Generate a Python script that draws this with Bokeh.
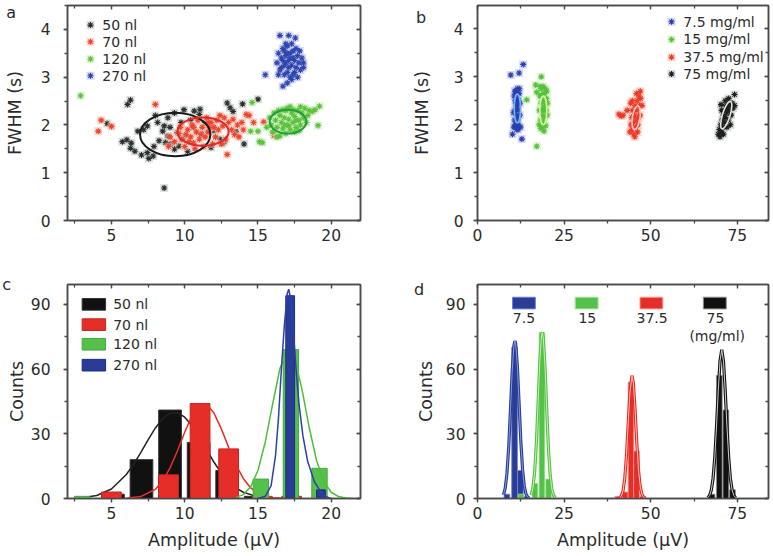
from bokeh.plotting import figure
from bokeh.layouts import column, row
from bokeh.models import LinearAxis, SingleIntervalTicker, Range1d, Label
from bokeh.embed import file_html
from bokeh.resources import INLINE
from bokeh.core.properties import value

FONT = "DejaVu Sans"
TXT = "#2b2b2b"
AXC = "#4a4a4a"

# ---------------- data ----------------
# panel a : FWHM vs amplitude, by volume
a_50nl = [(6.1,2.43),(6.3,2.52),(4.7,2.03),(5.75,1.65),(6.05,1.69),(6.35,1.62),(6.3,1.51),(7.05,1.37),
          (7.45,1.42),(7.55,1.30),(7.85,1.35),(6.8,1.87),(8.6,0.68),(7.45,1.98),(8.15,2.05),(8.5,1.87),
          (8.85,1.77),(8.25,1.67),(8.7,1.63),(9.05,1.60),(9.3,1.49),(9.6,1.56),(8.85,2.15),(9.3,2.25),
          (9.95,2.32),(10.65,2.29),(11.0,2.22),(9.75,2.05),(9.5,1.84),(8.6,1.98),(12.9,2.46),(13.1,2.36),
          (13.95,2.44),(15.0,2.54),(14.05,1.60),(13.5,1.86),(11.8,1.53),(12.7,1.66),(11.05,2.33),(10.6,1.95),
          (12.0,1.88),(10.2,1.45),(9.9,1.70),(10.4,2.10),(11.4,2.05),(12.4,1.70),(7.9,1.55),(8.0,2.20),
          (9.0,1.95),(10.0,1.78),(11.2,1.82),(12.6,1.62),(13.3,2.28),(7.2,1.90),(6.6,1.45)]
a_70nl = [(4.3,2.10),(5.0,1.97),(4.1,1.87),(8.0,2.43),(12.9,1.38),(16.1,1.78),(16.15,1.81),(15.4,2.06),
          (14.2,2.22),(14.4,2.2),(14.7,2.05),(13.9,2.05),(13.6,2.0),(13.3,2.12),(13.0,2.05),(12.7,2.15),
          (12.4,2.2),(12.2,2.1),(12.0,1.95),(11.8,2.05),(11.6,1.85),(11.4,1.75),(11.2,1.95),(11.0,1.7),
          (10.8,1.85),(10.6,1.62),(10.4,1.75),(10.2,1.9),(10.0,1.55),(9.8,1.7),(9.6,1.82),(9.3,1.65),
          (9.0,1.75),(8.9,1.55),(10.5,2.0),(10.9,2.1),(11.5,2.15),(12.1,1.75),(12.5,1.6),(12.8,1.7),
          (11.9,1.6),(11.3,1.55),(10.7,1.5),(10.1,1.8),(9.7,1.95),(13.4,1.8),(13.7,1.75),(14.0,1.9),
          (12.3,1.9),(11.7,1.95),(11.1,1.8),(10.3,1.65),(12.6,1.98),(13.2,1.9),(11.6,2.05),(10.6,1.95)]
a_120nl = [(2.9,2.61),(14.5,1.87),(15.1,1.65),(15.3,1.63),(16.5,1.77),(19.2,2.39),(19.1,1.99),(18.9,2.32),
           (17.9,2.38),(14.6,2.47),(15.0,1.87),(15.6,1.95),(15.9,2.0),(16.0,1.85),(16.2,2.1),(16.3,1.95),
           (16.5,2.2),(16.6,2.05),(16.7,1.92),(16.8,2.15),(16.9,2.3),(17.0,2.0),(17.1,2.12),(17.2,1.9),
           (17.3,2.25),(17.4,2.05),(17.5,2.18),(17.6,1.95),(17.7,2.3),(17.8,2.1),(17.9,2.0),(18.0,2.25),
           (18.1,2.15),(18.2,2.35),(18.4,2.2),(18.5,2.3),(18.7,2.28),(16.4,2.3),(16.7,2.32),(17.0,2.35),
           (17.2,2.38),(17.5,1.85),(16.9,1.82),(16.3,1.75),(17.8,1.88),(18.3,2.05),(16.1,2.25),(15.8,2.15),
           (17.4,2.32),(16.8,2.0),(17.6,2.1),(17.1,1.98)]
a_270nl = [(15.5,3.05),(16.5,3.87),(17.1,3.87),(17.55,3.82),(16.7,2.81),(17.0,2.88),(18.1,3.2),(17.85,3.55),
           (16.4,3.5),(16.3,3.3),(16.5,3.15),(16.6,3.4),(16.7,3.6),(16.8,3.25),(16.9,3.45),(17.0,3.1),
           (17.0,3.65),(17.1,3.35),(17.2,3.5),(17.2,3.0),(17.3,3.25),(17.4,3.55),(17.4,3.05),(17.5,3.35),
           (17.6,3.2),(17.7,3.45),(17.8,3.3),(17.9,3.15),(18.0,3.4),(16.9,3.7),(17.3,3.7),(16.6,3.2),
           (16.8,3.05),(17.1,3.2),(17.2,3.4),(16.9,3.3),(17.5,3.1),(17.6,3.6),(16.7,3.35),(17.3,2.95),
           (18.1,3.3),(16.4,3.05),(17.0,3.5),(17.4,3.4),(16.8,3.55),(17.7,3.0)]
a_labels = ["50 nl", "70 nl", "120 nl", "270 nl"]
# fitted ellipses (center x, center y, width, height)
a_ell_x = [9.35, 11.25, 17.05]
a_ell_y = [1.80, 1.86, 2.07]
a_ell_w = [4.8, 3.5, 2.5]
a_ell_h = [0.91, 0.59, 0.50]

# panel b : FWHM vs amplitude, by concentration
b_7_5 = [(9.6,3.04),(12.0,3.08),(13.2,3.26),(10.1,1.80),(12.8,1.70),(10.5,1.95),(10.7,2.1),(10.8,2.3),
         (10.9,2.5),(11.0,2.7),(11.1,2.0),(11.2,2.2),(11.3,2.4),(11.4,2.6),(11.5,2.75),(11.6,2.1),
         (11.7,2.3),(11.8,2.5),(11.9,1.95),(12.0,2.65),(12.2,2.2),(12.3,2.45),(10.6,2.6),(10.9,2.0),
         (11.3,1.9),(11.6,2.55),(11.1,2.45),(11.4,2.15),(11.8,2.0),(12.1,2.75),(10.4,2.25),(11.5,2.35),
         (11.2,2.65),(11.7,1.9),(10.8,2.7),(12.4,1.95)]
b_15 = [(14.2,2.52),(16.8,2.83),(17.1,2.68),(18.4,3.0),(17.1,1.55),(19.2,1.87),(17.8,2.0),(17.9,2.3),
        (18.0,2.6),(18.2,2.1),(18.3,2.45),(18.4,2.75),(18.6,1.95),(18.7,2.2),(18.8,2.5),(18.9,2.8),
        (19.0,2.05),(19.1,2.35),(19.2,2.65),(19.4,2.15),(19.5,2.4),(19.6,2.75),(19.8,2.3),(19.9,2.55),
        (20.1,2.2),(20.2,2.45),(18.5,2.3),(19.3,2.5),(18.1,2.8),(19.7,1.98),(20.0,2.7),(18.6,2.62),
        (19.0,2.3),(18.3,1.92)]
b_37_5 = [(40.8,2.22),(41.5,2.18),(42.0,2.2),(43.2,2.3),(44.0,1.85),(44.3,2.0),(44.5,2.15),(44.6,1.9),
          (44.8,2.3),(45.0,2.05),(45.1,1.8),(45.3,2.2),(45.5,2.4),(45.6,1.95),(45.8,2.1),(46.0,2.3),
          (46.1,2.5),(46.2,1.85),(46.4,2.15),(46.6,2.6),(46.8,2.4),(47.0,2.7),(47.1,2.55),(46.9,2.2),
          (45.4,1.75),(44.2,2.45),(47.5,2.4),(45.9,2.65),(44.7,2.5),(46.3,2.0)]
b_75 = [(74.2,2.63),(69.5,1.8),(69.8,1.9),(70.0,1.75),(70.2,2.0),(70.4,1.85),(70.6,2.1),(70.8,1.95),
        (71.0,2.2),(71.2,2.05),(71.4,2.3),(71.6,2.15),(71.8,2.4),(72.0,2.25),(72.2,2.35),(72.4,2.1),
        (72.6,2.45),(72.8,2.3),(73.0,2.4),(73.2,2.2),(73.5,2.45),(73.8,2.35),(74.2,2.4),(71.0,1.8),
        (70.5,2.3),(72.0,1.95),(73.0,2.0),(71.5,2.5),(70.3,2.42),(72.5,2.55)]
b_labels = ["7.5 mg/ml", "15 mg/ml", "37.5 mg/ml", "75 mg/ml"]
b_ell_x = [11.5, 19.0, 45.8, 71.8]
b_ell_y = [2.34, 2.30, 2.15, 2.20]
b_ell_w = [1.8, 2.0, 2.2, 2.2]
b_ell_h = [0.60, 0.60, 0.50, 0.60]
b_ell_a = [0.0, 0.0, -0.15, -0.3]

# panel c : amplitude histograms by volume
c_x50 = [5.1, 7.05, 9.0, 10.95, 12.9, 14.85]
c_n50 = [2, 18, 41, 26, 13, 1]
c_x70 = [5.0, 8.9, 11.05, 13.0, 15.3, 17.3]
c_n70 = [3, 11, 44, 23, 1, 1]
c_x120 = [3.0, 15.2, 17.25, 19.2]
c_n120 = [1, 9, 69, 14]
c_x270 = [17.2, 19.3]
c_n270 = [94, 4]
c_fit50 = [(3,0.4),(4,1.4),(5,4.4),(6,11),(6.5,15.7),(7,21.3),(7.5,27.2),(8,32.7),(8.5,37.1),(9,39.6),
           (9.5,39.8),(10,37.7),(10.5,33.7),(11,28.4),(11.5,22.5),(12,16.8),(12.5,11.8),(13,7.8),
           (13.5,4.9),(14,2.9),(15,0.8),(16,0.2)]
c_fit70 = [(6,0.1),(7,0.9),(8,4.3),(8.5,8.2),(9,14.2),(9.5,22),(10,30.7),(10.5,38.4),(11,43.2),(11.5,43.6),
           (12,39.6),(12.5,32.3),(13,23.7),(13.5,15.6),(14,9.3),(14.5,4.9),(15,2.4),(16,0.4),(17,0.1),(18,0)]
c_fit120 = [(13.5,0.5),(14,1.8),(14.5,5.4),(15,13),(15.5,26.2),(16,43.7),(16.5,60.2),(17,68.8),(17.5,65),
            (18,50.8),(18.5,32.9),(19,17.6),(19.5,7.8),(20,2.9),(20.5,0.9),(21,0.2),(21.5,0)]
c_fit270 = [(15,0),(15.5,1),(15.9,6),(16.2,20),(16.4,37),(16.6,60),(16.8,80),(17.0,95),(17.1,97),
            (17.25,92),(17.4,80),(17.6,60),(17.8,44),(18.07,29),(18.4,17),(18.86,7.7),(19.2,4),(19.6,1),(20,0)]

# panel d : amplitude histograms by concentration
d_x7_5 = [8.5, 10.7, 12.4, 14.0]
d_n7_5 = [2, 70, 13, 1]
d_x15 = [12.6, 16.6, 18.6, 20.5]
d_n15 = [2, 7, 77, 9]
d_x37_5 = [40.5, 42.7, 44.3, 45.9, 47.6]
d_n37_5 = [1, 3, 54, 22, 1]
d_x75 = [67.7, 69.8, 71.7, 73.6]
d_n75 = [2, 57, 41, 4]
d_fit7_5 = [(7.5,1.7),(8,4.8),(8.5,11.6),(9,23.7),(9.5,40.6),(10,58.5),(10.5,70.8),(10.8,73),(11,72),
            (11.5,61.6),(12,44.3),(12.5,26.8),(13,13.6),(13.5,5.8),(14,2.1),(14.5,0.6),(15,0.1)]
d_fit15 = [(15.5,1.6),(16,4.9),(16.5,12.4),(17,25.8),(17.5,44.7),(18,64),(18.5,75.9),(18.7,77),(19,74.4),
           (19.5,60.4),(20,40.6),(20.5,22.6),(21,10.4),(21.5,4),(22,1.3),(22.5,0.3)]
d_fit37_5 = [(41,0.3),(41.5,1.1),(42,3.5),(42.5,9.2),(43,19.8),(43.5,34.6),(44,49.1),(44.6,57),(45,53.4),
             (45.5,40.8),(46,25.4),(46.5,12.8),(47,5.3),(47.5,1.8),(48,0.5),(48.5,0.1)]
d_fit75 = [(66.5,0.4),(67,1.4),(67.5,3.9),(68,9.3),(68.5,19.2),(69,33.6),(69.5,50.1),(70,63.7),(70.5,69),
           (71,63.7),(71.5,50.1),(72,33.6),(72.5,19.2),(73,9.3),(73.5,3.9),(74,1.4),(74.5,0.4)]
d_labels = ["7.5", "15", "37.5", "75"]

# ---------------- styling helpers ----------------
BLACK, RED, GREEN, BLUE = "#111111", "#e52e28", "#55c04a", "#2a3d96"


def make_panel(w, h, xr, yr, borders, xint, yint, xlab, ylab, xs, ys):
    bl, br, bt, bb = borders
    p = figure(width=w, height=h, x_range=Range1d(*xr), y_range=Range1d(*yr),
               output_backend="svg", toolbar_location=None,
               min_border_left=bl, min_border_right=br, min_border_top=bt, min_border_bottom=bb)
    p.xgrid.visible = False
    p.ygrid.visible = False
    p.outline_line_color = AXC
    p.outline_line_width = 1.5
    for ax, interval, (s1, s2), lab in ((p.xaxis[0], xint, xs, xlab), (p.yaxis[0], yint, ys, ylab)):
        ax.ticker = SingleIntervalTicker(interval=interval, num_minor_ticks=2)
        ax.axis_line_color = AXC
        ax.axis_line_width = 1.5
        ax.major_tick_line_color = AXC
        ax.minor_tick_line_color = AXC
        ax.major_tick_line_width = 1.3
        ax.minor_tick_line_width = 1.3
        ax.major_tick_out = 4
        ax.major_tick_in = 0
        ax.minor_tick_out = 3
        ax.minor_tick_in = 0
        ax.major_label_text_font = FONT
        ax.major_label_text_font_size = "15.5px"
        ax.major_label_text_color = TXT
        ax.major_label_standoff = s1
        if lab:
            ax.axis_label = lab
            ax.axis_label_text_font = FONT
            ax.axis_label_text_font_size = "17.5px"
            ax.axis_label_text_font_style = "normal"
            ax.axis_label_text_color = TXT
            ax.axis_label_standoff = s2
    # mirrored frame ticks (inward, no labels) on the top and right edges
    for loc, interval in (("above", xint), ("right", yint)):
        ax = LinearAxis(ticker=SingleIntervalTicker(interval=interval, num_minor_ticks=2),
                        major_tick_in=4, major_tick_out=0, minor_tick_in=3, minor_tick_out=0,
                        major_label_text_font_size="0px", major_label_text_color=None,
                        major_label_standoff=0,
                        axis_line_color=AXC, axis_line_width=1.5,
                        major_tick_line_color=AXC, minor_tick_line_color=AXC,
                        major_tick_line_width=1.3, minor_tick_line_width=1.3)
        p.add_layout(ax, loc)
    return p


def stars(p, pts, col, halo, size=6):
    xs = [q[0] for q in pts]
    ys = [q[1] for q in pts]
    p.scatter(xs, ys, marker="square", size=size + 2, fill_color=halo, fill_alpha=0.55, line_color=None)
    p.scatter(xs, ys, marker="asterisk", size=size, line_color=col, line_width=1.1)


def curve(p, pts, col, width=1.5):
    p.line([q[0] for q in pts], [q[1] for q in pts], line_color=col, line_width=width)


def letter(p, x, y, t, side):
    # placed in a side panel so that it is not clipped to the plot frame
    p.add_layout(Label(x=x, y=y, text=t, text_font=FONT, text_font_size="16px", text_color=TXT,
                       text_align="center", text_baseline="middle"), side)


def legend_text(p, xs, ys, texts, align="left", size="14px"):
    p.text(x=xs, y=ys, text=texts, text_font=value(FONT), text_font_size=value(size),
           text_color=TXT, text_align=align, text_baseline="middle")

# ---------------- panel a ----------------
pa = make_panel(390, 274, (2, 22), (0, 4.50), (67, 30, 5, 52), 5, 1, None, "FWHM (s)", (4, 0), (13, 13))
a_cols = ["#2a2f2c", "#ec4530", "#5cc23c", "#2f45ae"]
a_halos = ["#b9c4c0", "#f9b6a6", "#c4eab2", "#b4bce8"]
for pts, c, hcol in zip([a_50nl, a_70nl, a_120nl, a_270nl], a_cols, a_halos):
    stars(pa, pts, c, hcol)
pa.ellipse(x=a_ell_x, y=a_ell_y, width=a_ell_w, height=a_ell_h, fill_color=None,
           line_color=["#1a1a1a", "#e02828", "#1f9e3a"], line_width=2)
leg_a_y = [4.09, 3.74, 3.38, 3.03]
for i in range(4):
    stars(pa, [(3.57, leg_a_y[i])], a_cols[i], a_halos[i])
legend_text(pa, [4.37] * 4, leg_a_y, a_labels)
letter(pa, -1.84, 4.355, "a", "right")

# ---------------- panel b ----------------
pb = make_panel(383, 274, (0, 84), (0, 4.49), (87, 5, 4, 54), 25, 1, None, "FWHM (s)", (4, 0), (10, 19))
b_cols = ["#2a3fae", "#55c03a", "#ec3a2a", "#1c1f1c"]
b_halos = ["#b4bce8", "#c4eab2", "#f9b6a6", "#b9c4c0"]
for pts, c, hcol in zip([b_7_5, b_15, b_37_5, b_75], b_cols, b_halos):
    stars(pb, pts, c, hcol)
pb.ellipse(x=b_ell_x, y=b_ell_y, width=b_ell_w, height=b_ell_h, angle=b_ell_a, fill_color=None,
           line_color=["#6ab4f4", "#d4f2a0", "#ffc2c2", "#e2e2e2"], line_width=1.6)
leg_b_y = [4.15, 3.78, 3.41, 3.06]
for i in range(4):
    stars(pb, [(56.0, leg_b_y[i])], b_cols[i], b_halos[i])
legend_text(pb, [59.4] * 4, leg_b_y, b_labels)
letter(pb, -16.3, 4.245, "b", "left")

# ---------------- panel c ----------------
pc = make_panel(390, 282, (2, 22), (0, 99.2), (67, 30, 10, 58), 5, 30, "Amplitude (\u00b5V)", "Counts",
                (4, 8), (13, 1))
c_sets = [(c_x50, c_n50, c_fit50, BLACK, "#333333", "#222222", 1.55),
          (c_x70, c_n70, c_fit70, RED, "#c52420", RED, 1.35),
          (c_x120, c_n120, c_fit120, GREEN, "#47a83c", "#4cbf3c", 1.05),
          (c_x270, c_n270, c_fit270, BLUE, "#1e2d80", "#2c3fb0", 0.6)]
for xs, ns, fit, fc, lc, cc, bw in c_sets:
    pc.vbar(x=xs, top=ns, bottom=0, width=bw, fill_color=fc, line_color=lc, line_width=1)
    curve(pc, fit, cc)
leg_c_y = [90.0, 80.6, 71.5, 61.8]
pc.rect(x=[3.8] * 4, y=leg_c_y, width=1.6, height=5.4,
        fill_color=[BLACK, RED, GREEN, BLUE], line_color=["#333333", "#c52420", "#47a83c", "#1e2d80"])
legend_text(pc, [5.12] * 4, leg_c_y, a_labels)
letter(pc, -2.16, 99.3, "c", "right")

# ---------------- panel d ----------------
pd_ = make_panel(383, 282, (0, 84), (0, 99.2), (87, 5, 10, 58), 25, 30, "Amplitude (\u00b5V)", "Counts",
                 (4, 8), (8, 7))
d_sets = [(d_x7_5, d_n7_5, d_fit7_5, BLUE, "#6f80d0", "#8898e4"),
          (d_x15, d_n15, d_fit15, GREEN, "#a6e496", "#c4f2b0"),
          (d_x37_5, d_n37_5, d_fit37_5, RED, "#ff9c92", "#ffc0b8"),
          (d_x75, d_n75, d_fit75, BLACK, "#8a8a8a", "#cfcfcf")]
for xs, ns, fit, fc, lc, inner in d_sets:
    pd_.vbar(x=xs, top=ns, bottom=0, width=1.65, fill_color=fc, line_color=lc, line_width=0.8)
    curve(pd_, fit, fc, 3.2)
    curve(pd_, fit, inner, 1.0)
leg_d_x = [13.4, 31.5, 50.2, 68.5]
pd_.rect(x=leg_d_x, y=[90.6] * 4, width=6.6, height=5.4,
         fill_color=[BLUE, GREEN, RED, BLACK], line_color=["#6f80d0", "#a6e496", "#ff9c92", "#8a8a8a"])
legend_text(pd_, [13.4, 31.7, 50.4, 68.7], [83.5] * 4, d_labels, align="center")
legend_text(pd_, [69.2], [75.4], ["(mg/ml)"], align="center")
letter(pd_, -16.9, 97.1, "d", "left")

layout = column(row(pa, pb), row(pc, pd_))
open("out.html", "w").write(file_html(layout, INLINE))
